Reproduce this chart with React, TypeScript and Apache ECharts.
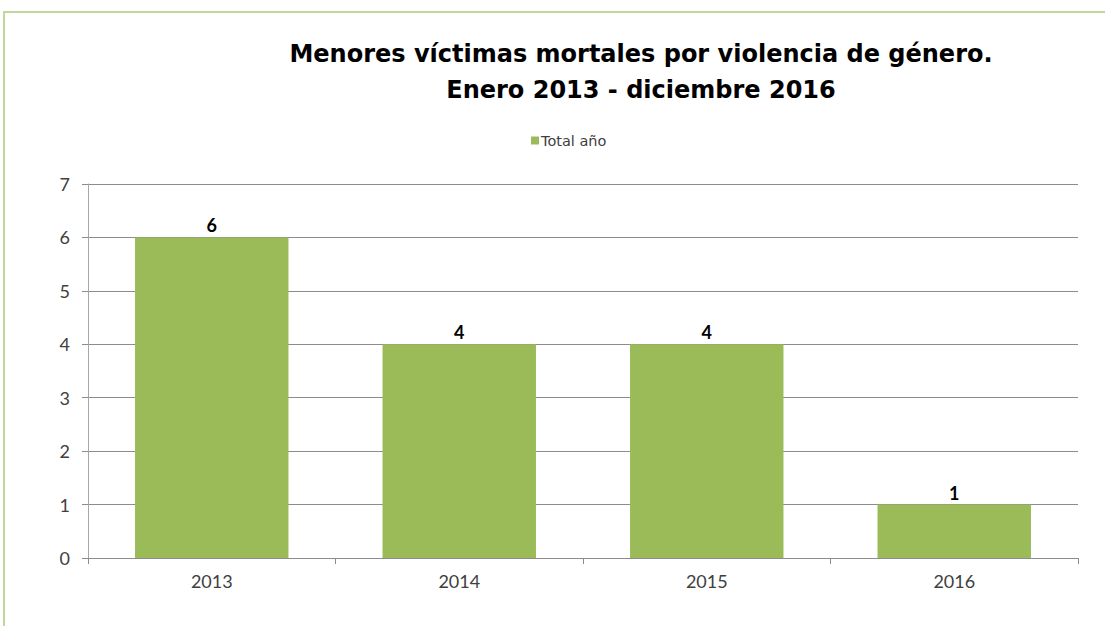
import React, { useEffect, useRef } from "react";
import * as echarts from "echarts";

const categories = ["2013", "2014", "2015", "2016"];
const totals = [6, 4, 4, 1];
const yTicks = [0, 1, 2, 3, 4, 5, 6, 7];
const seriesName = "Total año";
const titleLines = [
  "Menores víctimas mortales por violencia de género.",
  "Enero 2013 - diciembre 2016",
];

const FONT = "Lato, 'Open Sans', sans-serif";
const TITLE_FONT = "'DejaVu Sans', sans-serif";

export default function App() {
  const ref = useRef<HTMLDivElement>(null);
  useEffect(() => {
    if (!ref.current) return;
    const chart = echarts.init(ref.current, undefined, { renderer: "svg" });
    chart.setOption({
      animation: false,
      backgroundColor: "#ffffff",
      title: titleLines.map((t, i) => ({
        text: t,
        left: 636,
        top: 37 + i * 36,
        textAlign: "center",
        textStyle: {
          fontFamily: TITLE_FONT,
          fontWeight: "bold",
          fontSize: 24,
          color: "#000000",
        },
      })),
      legend: {
        data: [seriesName],
        left: 526,
        top: 128,
        itemWidth: 8,
        itemHeight: 8,
        itemGap: 4,
        icon: "rect",
        textStyle: { fontFamily: "'DejaVu Sans', sans-serif", fontSize: 14.5, color: "#404040", padding: [0, 0, 0, -3] },
      },
      graphic: [
        {
          type: "rect",
          shape: { x: 4, y: 12, width: 1200, height: 700 },
          style: { fill: "none", stroke: "#c3d69b", lineWidth: 2 },
          silent: true,
        },
      ],
      grid: { left: 88, right: 27, top: 184, bottom: 68 },
      xAxis: {
        type: "category",
        data: categories,
        axisLine: { lineStyle: { color: "#8c8c8c", width: 1 } },
        axisTick: { show: true, length: 6, lineStyle: { color: "#8c8c8c" } },
        axisLabel: { fontFamily: FONT, fontSize: 18, color: "#404040", margin: 14 },
      },
      yAxis: {
        type: "value",
        min: yTicks[0],
        max: yTicks[yTicks.length - 1],
        interval: 1,
        axisLine: { show: true, lineStyle: { color: "#a6a6a6" } },
        axisTick: { show: true, length: 6, lineStyle: { color: "#8c8c8c" } },
        splitLine: { lineStyle: { color: "#8c8c8c", width: 1 } },
        axisLabel: { fontFamily: FONT, fontSize: 18, color: "#404040", margin: 18 },
      },
      series: [
        {
          name: seriesName,
          type: "bar",
          data: totals,
          barCategoryGap: "38%",
          itemStyle: { color: "#9bbb59" },
          label: {
            show: true,
            position: "top",
            distance: 3,
            fontFamily: FONT,
            fontWeight: "bold",
            fontSize: 18,
            color: "#000000",
          },
        },
      ],
    });
    return () => chart.dispose();
  }, []);
  return (
    <div
      ref={ref}
      style={{ position: "fixed", left: 0, top: 0, width: 1105, height: 626 }}
    />
  );
}
